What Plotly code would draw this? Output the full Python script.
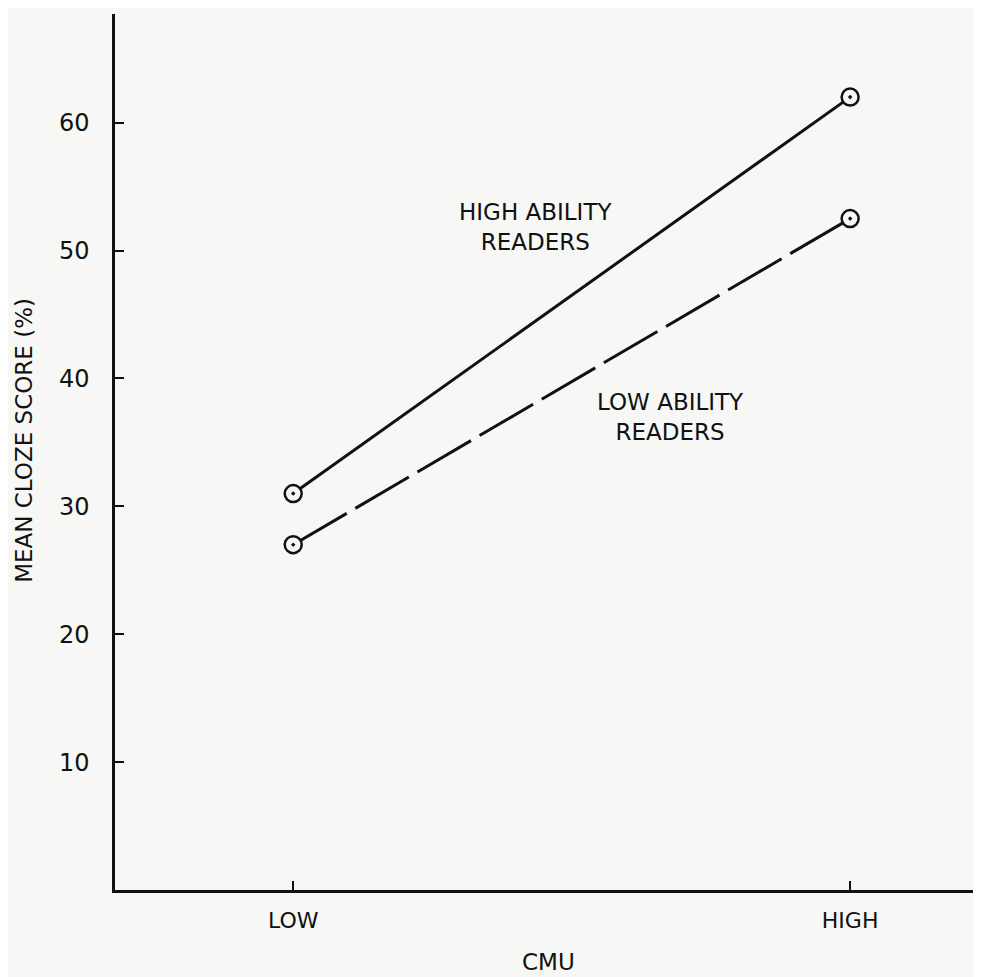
import plotly.graph_objects as go

# data
cmu_levels = ["LOW", "HIGH"]
high_ability = [31, 62]
low_ability = [27, 52.5]
y_ticks = [10, 20, 30, 40, 50, 60]

bg = "#f7f7f5"
ink = "#111111"
font_family = "DejaVu Sans"

fig = go.Figure()

# high ability readers: solid line
fig.add_trace(go.Scatter(
    x=cmu_levels, y=high_ability, mode="lines+markers",
    line=dict(color=ink, width=3),
    marker=dict(symbol="circle-dot", size=17, color=bg,
                line=dict(color=ink, width=2.5)),
    showlegend=False))

# low ability readers: long dashes
fig.add_trace(go.Scatter(
    x=cmu_levels, y=low_ability, mode="lines+markers",
    line=dict(color=ink, width=3, dash="62px,10px"),
    marker=dict(symbol="circle-dot", size=17, color=bg,
                line=dict(color=ink, width=2.5)),
    showlegend=False))


def label(text, x, y, size=23, angle=0):
    return dict(text=text, textangle=angle, xref="paper", yref="paper",
                x=x, y=y, xanchor="center", yanchor="middle",
                showarrow=False, font=dict(size=size))


# page has an 8px body margin, so the figure is shrunk to fit the window
fig.update_layout(
    width=973, height=969,
    paper_bgcolor=bg, plot_bgcolor=bg,
    margin=dict(l=107, r=0, t=6, b=87),
    font=dict(family=font_family, size=20, color=ink),
    xaxis=dict(type="category", range=[-0.32, 1.235],
               showline=True, linecolor=ink, linewidth=3,
               ticks="inside", ticklen=9, tickwidth=2, tickcolor=ink,
               showgrid=False, zeroline=False,
               tickfont=dict(size=22), ticklabelstandoff=9),
    yaxis=dict(range=[0, 68.5], tickvals=y_ticks,
               showline=True, linecolor=ink, linewidth=2.5,
               ticks="inside", ticklen=9, tickwidth=2, tickcolor=ink,
               showgrid=False, zeroline=False,
               tickfont=dict(size=24), ticklabelstandoff=18),
    annotations=[
        label("MEAN CLOZE SCORE (%)", -0.106, 0.513, angle=-90),
        label("CMU", 0.5, -0.082),
        label("HIGH ABILITY<br>READERS", 0.485, 0.757),
        label("LOW ABILITY<br>READERS", 0.641, 0.54),
    ],
)

fig.write_html("out.html")
